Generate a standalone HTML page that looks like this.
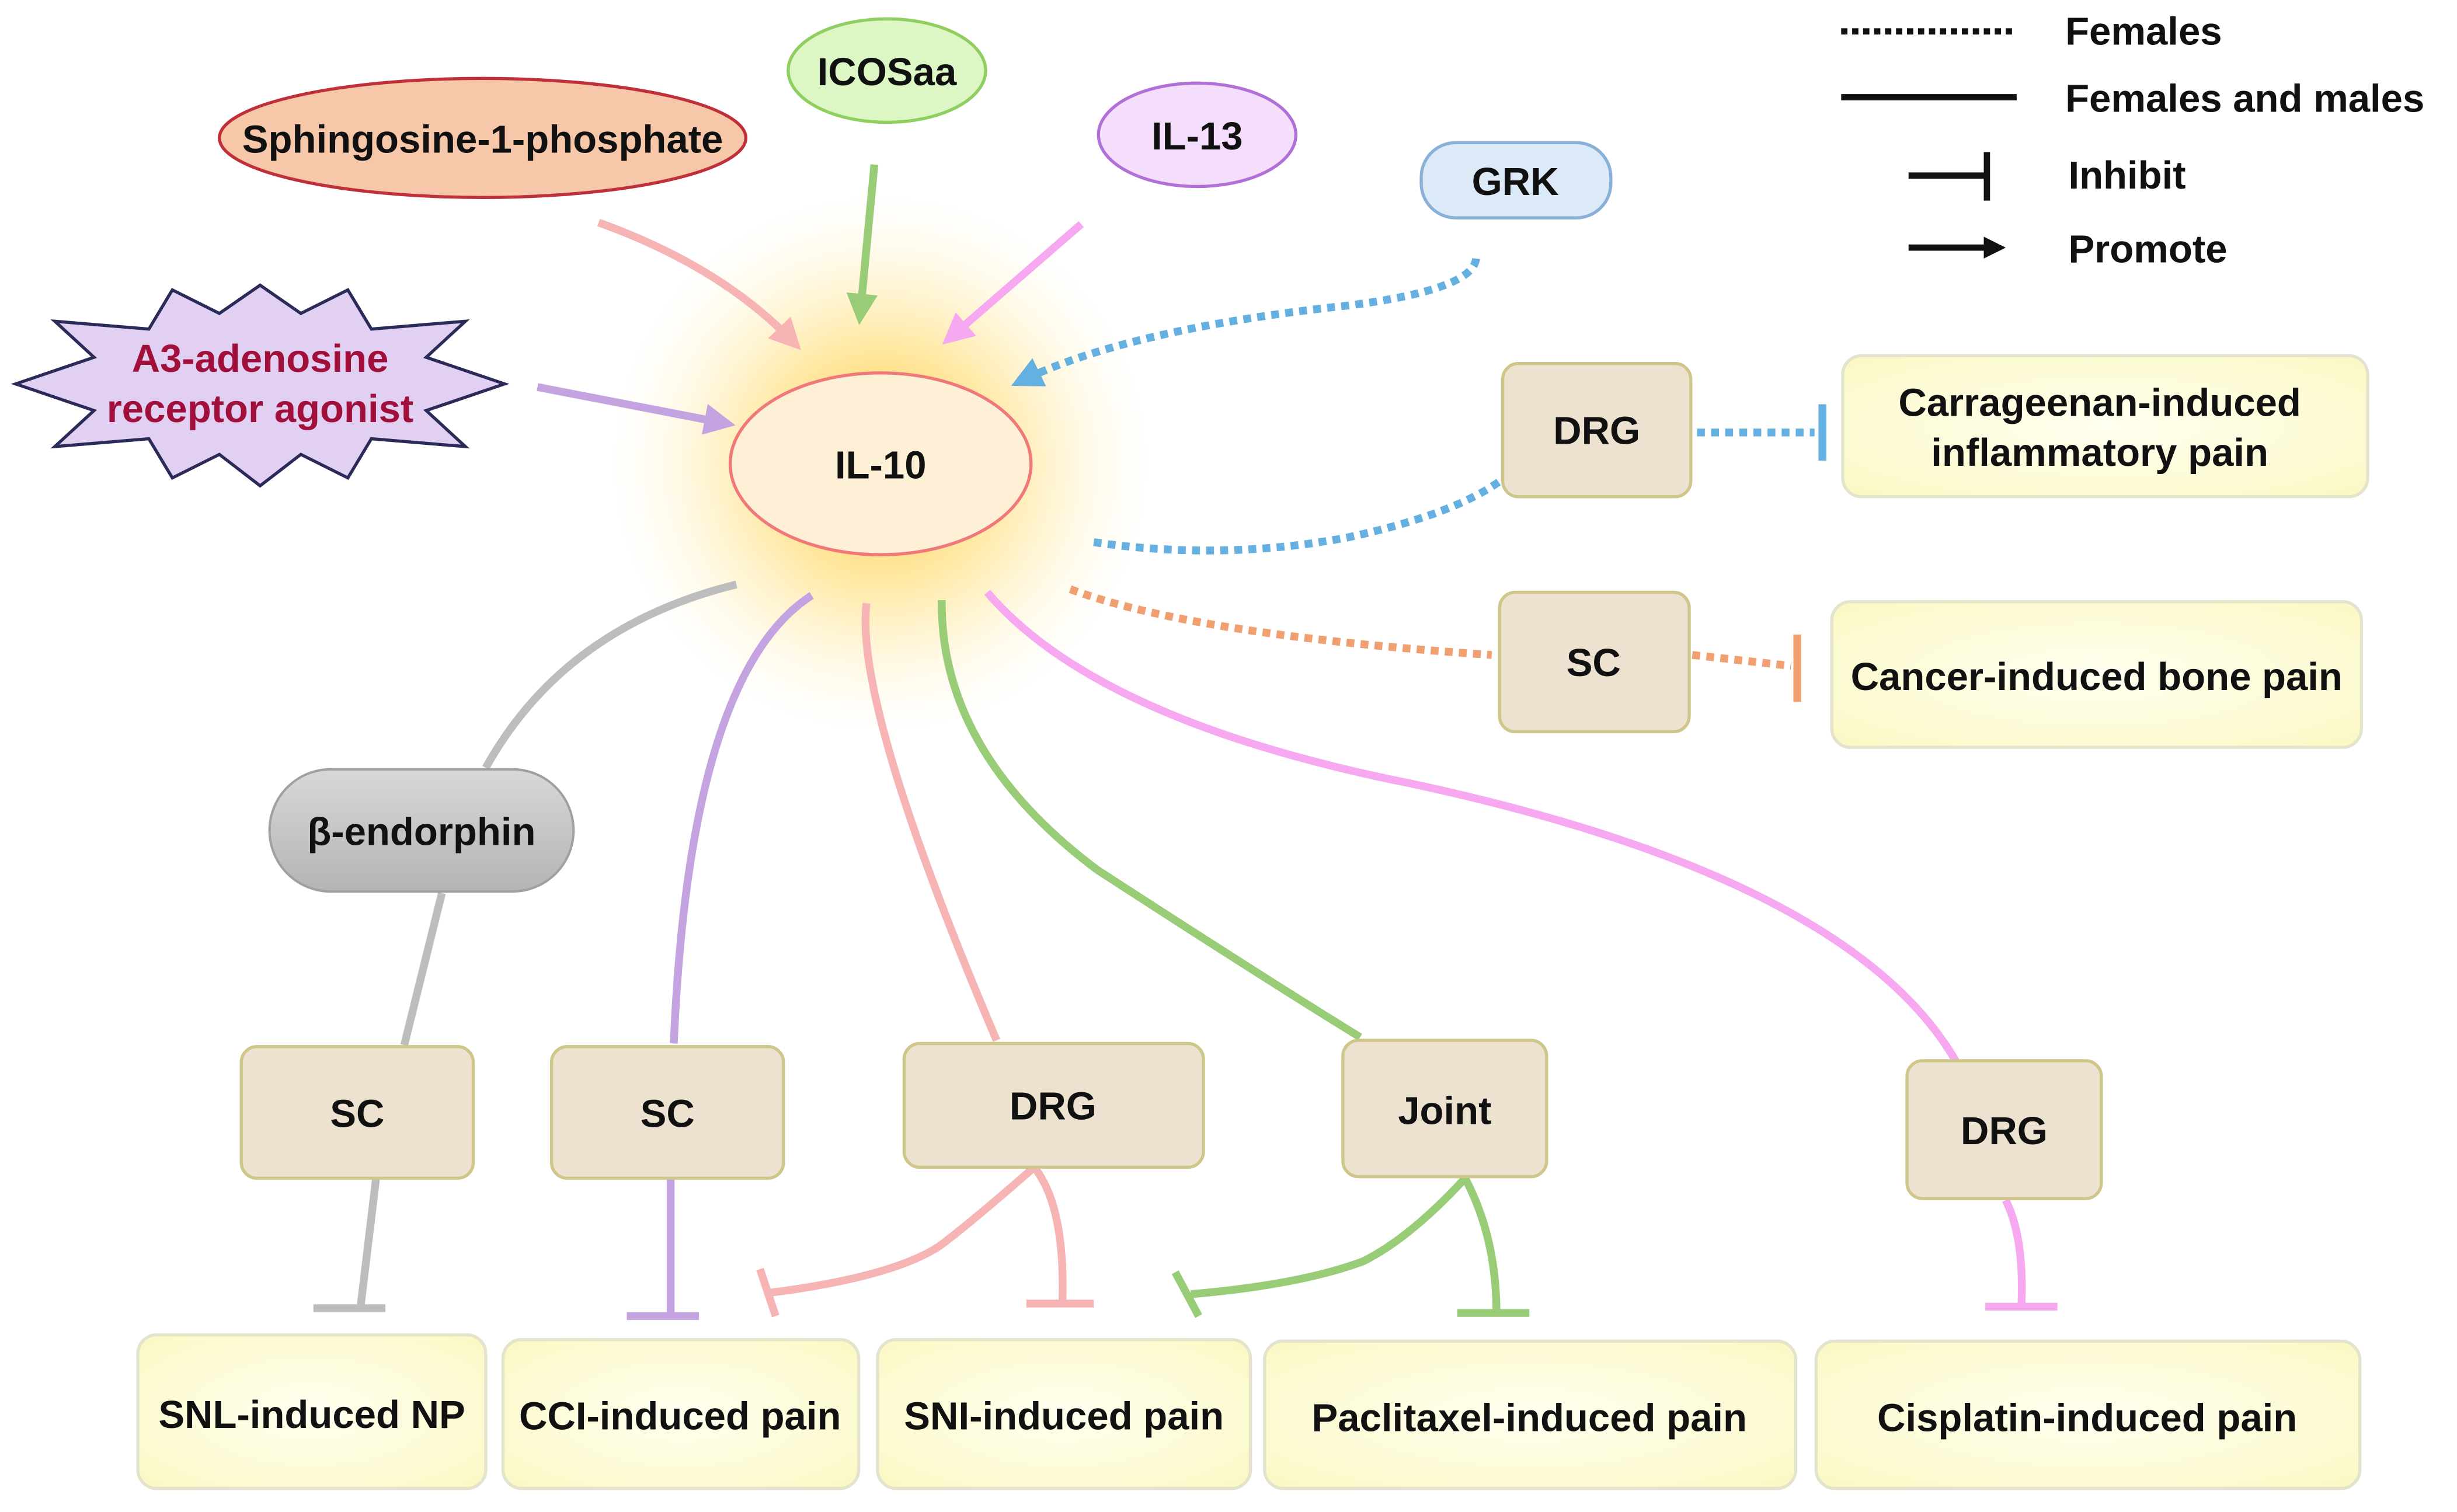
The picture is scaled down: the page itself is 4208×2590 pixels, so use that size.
<!DOCTYPE html>
<html><head><meta charset="utf-8"><style>
html,body{margin:0;padding:0;background:#fff;}
svg{display:block;}
text{font-family:"Liberation Sans",Arial,sans-serif;font-weight:bold;fill:#111;text-anchor:middle;dominant-baseline:central;}
</style></head><body>
<svg width="4208" height="2590" viewBox="0 0 1568 965" xmlns="http://www.w3.org/2000/svg">
<defs>
<radialGradient id="glow" cx="0.5" cy="0.5" r="0.5">
<stop offset="0" stop-color="#ffc020" stop-opacity="0.9"/>
<stop offset="0.45" stop-color="#ffd860" stop-opacity="0.55"/>
<stop offset="1" stop-color="#fff6d0" stop-opacity="0"/>
</radialGradient>
<radialGradient id="pain" cx="0.5" cy="0.5" r="0.7">
<stop offset="0" stop-color="#fffff0"/>
<stop offset="1" stop-color="#fbf8c4"/>
</radialGradient>
<linearGradient id="gray" x1="0" y1="0" x2="0" y2="1">
<stop offset="0" stop-color="#d8d8d8"/><stop offset="1" stop-color="#b4b4b4"/>
</linearGradient>
<marker id="ah" markerWidth="4" markerHeight="4" refX="2.5" refY="2" orient="auto" markerUnits="strokeWidth">
<path d="M0,0 L4,2 L0,4 Z" fill="context-stroke"/></marker>
</defs>

<circle cx="562" cy="296" r="175" fill="url(#glow)"/>

<!-- legend -->
<line x1="1175" y1="20" x2="1287" y2="20" stroke="#111" stroke-width="4" stroke-dasharray="4 3"/>
<text x="1318" y="20" font-size="25" style="text-anchor:start">Females</text>
<line x1="1175" y1="62" x2="1287" y2="62" stroke="#111" stroke-width="4"/>
<text x="1318" y="63" font-size="25" style="text-anchor:start">Females and males</text>
<line x1="1218" y1="112" x2="1268" y2="112" stroke="#111" stroke-width="4"/>
<line x1="1268" y1="97" x2="1268" y2="128" stroke="#111" stroke-width="4"/>
<text x="1320" y="112" font-size="25" style="text-anchor:start">Inhibit</text>
<line x1="1218" y1="158" x2="1268" y2="158" stroke="#111" stroke-width="4"/>
<path d="M1266,151 L1280,158 L1266,165 Z" fill="#111"/>
<text x="1320" y="159" font-size="25" style="text-anchor:start">Promote</text>

<!-- input arrows -->
<g fill="none" stroke-width="5">
<path d="M382,142 Q460,170 506,218" stroke="#f7b4b4" marker-end="url(#ah)"/>
<path d="M558,105 L549,200" stroke="#99cc77" marker-end="url(#ah)"/>
<path d="M690,143 L607,215" stroke="#f6a8f0" marker-end="url(#ah)"/>
<path d="M942,165 Q940,185 860,195 Q720,210 652,243" stroke="#64b0e0" stroke-dasharray="5 4" marker-end="url(#ah)"/>
<path d="M343,247 L462,270" stroke="#c4a4e0" marker-end="url(#ah)"/>
</g>

<!-- sources -->
<ellipse cx="308" cy="88" rx="168" ry="38" fill="#f7c7a9" stroke="#c0303a" stroke-width="2"/>
<text x="308" y="89" font-size="25">Sphingosine-1-phosphate</text>
<ellipse cx="566" cy="45" rx="63" ry="33" fill="#dcf6c4" stroke="#8fcf60" stroke-width="2"/>
<text x="566" y="46" font-size="25">ICOSaa</text>
<ellipse cx="764" cy="86" rx="63" ry="33" fill="#f4defb" stroke="#b070d8" stroke-width="2"/>
<text x="764" y="87" font-size="25">IL-13</text>
<rect x="907" y="91" width="121" height="48" rx="22" fill="#dce9f6" stroke="#8ab0d8" stroke-width="2"/>
<text x="967" y="116" font-size="25">GRK</text>
<polygon points="10,245 60,228 35,205 95,210 110,185 140,200 166,182 192,200 222,185 237,210 297,205 272,228 322,245 272,262 297,285 237,280 222,305 192,290 166,310 140,290 110,305 95,280 35,285 60,262" fill="#e2d0f2" stroke="#2b2b5a" stroke-width="2"/>
<text x="166" y="229" font-size="25" style="fill:#a0103a">A3-adenosine</text>
<text x="166" y="261" font-size="25" style="fill:#a0103a">receptor agonist</text>

<ellipse cx="562" cy="296" rx="96" ry="58" fill="#fdf0d6" stroke="#f07878" stroke-width="2"/>
<text x="562" y="297" font-size="25">IL-10</text>

<!-- right side -->
<g fill="none" stroke-width="5" stroke-dasharray="5 4">
<path d="M698,346 Q780,358 860,343 Q930,328 960,305" stroke="#64b0e0"/>
<path d="M1083,276 L1158,276" stroke="#64b0e0"/>
<path d="M683,376 Q760,405 952,418" stroke="#f0a070"/>
<path d="M1080,418 L1143,425" stroke="#f0a070"/>
</g>
<line x1="1163" y1="258" x2="1163" y2="294" stroke="#64b0e0" stroke-width="5"/>
<line x1="1147" y1="405" x2="1147" y2="448" stroke="#f0a070" stroke-width="5"/>

<!-- lines from IL-10 down -->
<g fill="none" stroke-width="5">
<path d="M470,373 Q360,400 310,490" stroke="#bdbdbd"/>
<path d="M282,570 L258,667" stroke="#bdbdbd"/>
<path d="M518,380 Q440,430 430,666" stroke="#c4a4e0"/>
<path d="M553,385 Q545,450 636,664" stroke="#f7b4b4"/>
<path d="M601,383 Q600,480 700,555 Q800,620 868,662" stroke="#99cc77"/>
<path d="M630,378 Q700,460 900,500 Q1180,560 1248,677" stroke="#f6a8f0"/>
<path d="M240,752 L230,835" stroke="#bdbdbd"/>
<line x1="200" y1="835" x2="246" y2="835" stroke="#bdbdbd"/>
<path d="M428,752 L428,840" stroke="#c4a4e0"/>
<line x1="400" y1="840" x2="446" y2="840" stroke="#c4a4e0"/>
<path d="M660,745 Q620,780 600,795 Q570,815 492,825" stroke="#f7b4b4"/>
<line x1="485" y1="810" x2="495" y2="840" stroke="#f7b4b4"/>
<path d="M660,745 Q680,770 678,832" stroke="#f7b4b4"/>
<line x1="655" y1="832" x2="698" y2="832" stroke="#f7b4b4"/>
<path d="M935,752 Q900,790 870,805 Q830,820 760,826" stroke="#99cc77"/>
<line x1="750" y1="812" x2="765" y2="840" stroke="#99cc77"/>
<path d="M935,752 Q955,790 955,838" stroke="#99cc77"/>
<line x1="930" y1="838" x2="976" y2="838" stroke="#99cc77"/>
<path d="M1280,766 Q1292,790 1290,834" stroke="#f6a8f0"/>
<line x1="1267" y1="834" x2="1313" y2="834" stroke="#f6a8f0"/>
</g>

<!-- tissue boxes -->
<g fill="#ece2cf" stroke="#cfc68a" stroke-width="2">
<rect x="959" y="232" width="120" height="85" rx="10"/>
<rect x="957" y="378" width="121" height="89" rx="10"/>
<rect x="154" y="668" width="148" height="84" rx="10"/>
<rect x="352" y="668" width="148" height="84" rx="10"/>
<rect x="577" y="666" width="191" height="79" rx="10"/>
<rect x="857" y="664" width="130" height="87" rx="10"/>
<rect x="1217" y="677" width="124" height="88" rx="10"/>
</g>
<text x="1019" y="275" font-size="25">DRG</text>
<text x="1017" y="423" font-size="25">SC</text>
<text x="228" y="711" font-size="25">SC</text>
<text x="426" y="711" font-size="25">SC</text>
<text x="672" y="706" font-size="25">DRG</text>
<text x="922" y="709" font-size="25">Joint</text>
<text x="1279" y="722" font-size="25">DRG</text>

<rect x="172" y="491" width="194" height="78" rx="39" fill="url(#gray)" stroke="#a0a0a0" stroke-width="1.5"/>
<text x="269" y="531" font-size="25">β-endorphin</text>

<!-- pain boxes -->
<g fill="url(#pain)" stroke="#e4e4cc" stroke-width="2">
<rect x="1176" y="227" width="335" height="90" rx="12"/>
<rect x="1169" y="384" width="338" height="93" rx="12"/>
<rect x="88" y="852" width="222" height="98" rx="12"/>
<rect x="321" y="855" width="227" height="95" rx="12"/>
<rect x="560" y="855" width="238" height="95" rx="12"/>
<rect x="807" y="856" width="339" height="94" rx="12"/>
<rect x="1159" y="856" width="347" height="94" rx="12"/>
</g>
<text x="1340" y="257" font-size="25">Carrageenan-induced</text>
<text x="1340" y="289" font-size="25">inflammatory pain</text>
<text x="1338" y="432" font-size="25">Cancer-induced bone pain</text>
<text x="199" y="903" font-size="25">SNL-induced NP</text>
<text x="434" y="904" font-size="25">CCI-induced pain</text>
<text x="679" y="904" font-size="25">SNI-induced pain</text>
<text x="976" y="905" font-size="25">Paclitaxel-induced pain</text>
<text x="1332" y="905" font-size="25">Cisplatin-induced pain</text>
</svg>
</body></html>
